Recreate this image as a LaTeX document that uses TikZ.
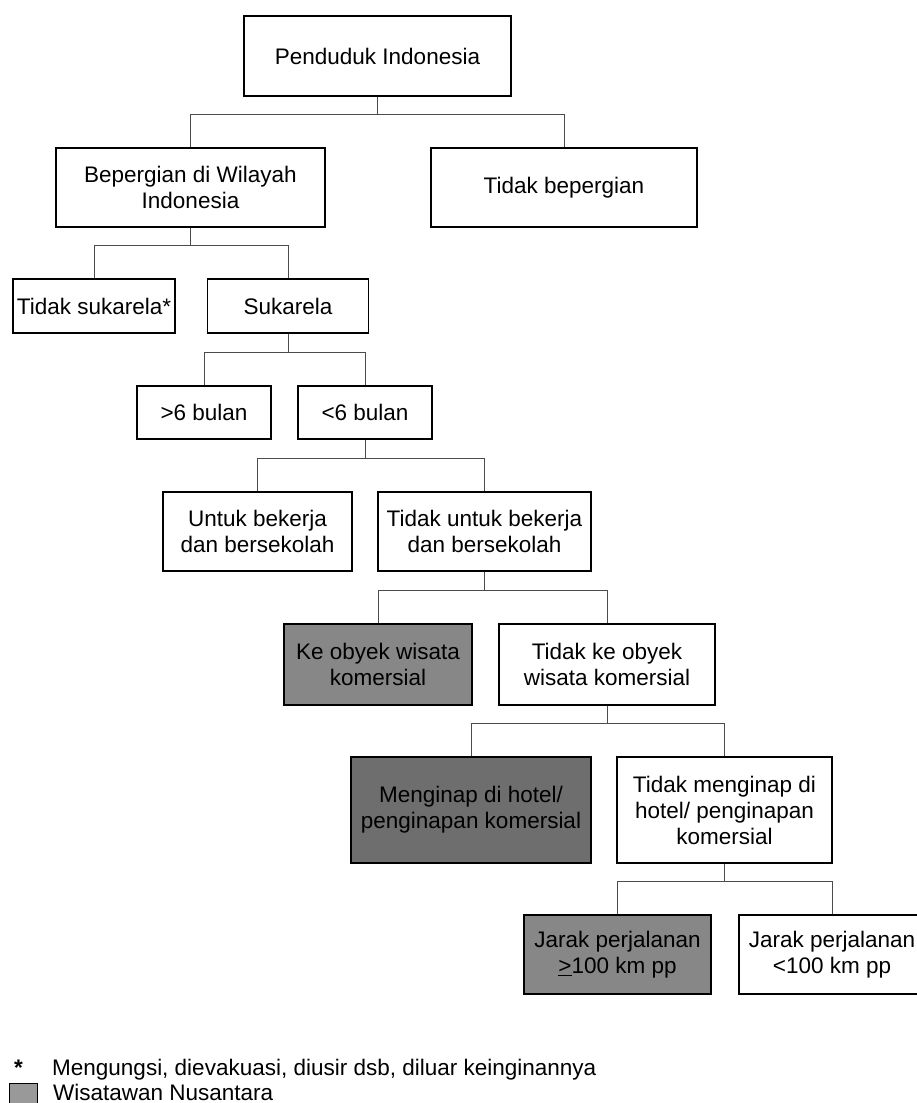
\documentclass[tikz,border=0pt]{standalone}
\usepackage{fontspec}
\setmainfont{Liberation Sans}
\usetikzlibrary{calc}
\begin{document}
\begin{tikzpicture}[x=1pt,y=-1pt,
  box/.style={draw=black, line width=1.4pt, fill=white, rectangle, inner sep=0pt,
    align=center, font=\fontsize{22.5}{26}\selectfont},
  tour/.style={box, fill=black!47},
  conn/.style={draw=black!70, line width=0.9pt},
  note/.style={anchor=base west, inner sep=0pt, font=\fontsize{22.5}{26}\selectfont},
]
\useasboundingbox (0,0) rectangle (916,1103);

% decision tree boxes
\node[box, minimum width=267pt, minimum height=80pt] (pend) at (377.5,56) {Penduduk Indonesia};
\node[box, minimum width=269pt, minimum height=79pt] (bep) at (190.5,187.5) {Bepergian di Wilayah\\Indonesia};
\node[box, minimum width=266pt, minimum height=79pt] (tbep) at (564,187.5) {Tidak bepergian};
\node[box, minimum width=162pt, minimum height=54pt] (tsuk) at (94,306) {Tidak sukarela*};
\node[box, minimum width=161pt, minimum height=54pt] (suk) at (288,306) {Sukarela};
\node[box, minimum width=134pt, minimum height=53pt] (gt6) at (204,412.5) {>6 bulan};
\node[box, minimum width=134pt, minimum height=53pt] (lt6) at (365,412.5) {<6 bulan};
\node[box, minimum width=189pt, minimum height=79pt] (ubk) at (257.5,531.5) {Untuk bekerja\\dan bersekolah};
\node[box, minimum width=213pt, minimum height=79pt] (tubk) at (484.5,531.5) {Tidak untuk bekerja\\dan bersekolah};
\node[tour, minimum width=188pt, minimum height=81pt] (keo) at (378,664.5) {Ke obyek wisata\\komersial};
\node[box, minimum width=216pt, minimum height=81pt] (tkeo) at (607,664.5) {Tidak ke obyek\\wisata komersial};
\node[tour, fill=black!57, minimum width=240pt, minimum height=106pt] (men) at (471,810) {Menginap di hotel/\\penginapan komersial};
\node[box, minimum width=215pt, minimum height=106pt] (tmen) at (724.5,810) {Tidak menginap di\\hotel/ penginapan\\komersial};
\node[tour, minimum width=187pt, minimum height=79pt] (jge) at (617.5,954.5) {Jarak perjalanan\\\underline{>}100 km pp};
\node[box, minimum width=186pt, minimum height=79pt] (jlt) at (832,954.5) {Jarak perjalanan\\<100 km pp};

% connectors: parent drop, then a bar joining the two children
\draw[conn] (pend.south) -- ($(pend.south |- bep.north)+(0,-33)$);
\draw[conn] (bep.north) -- ++(0,-33) -| (tbep.north);
\draw[conn] (bep.south) -- ($(bep.south |- tsuk.north)+(0,-33)$);
\draw[conn] (tsuk.north) -- ++(0,-33) -| (suk.north);
\draw[conn] (suk.south) -- ($(suk.south |- gt6.north)+(0,-33)$);
\draw[conn] (gt6.north) -- ++(0,-33) -| (lt6.north);
\draw[conn] (lt6.south) -- ($(lt6.south |- ubk.north)+(0,-33)$);
\draw[conn] (ubk.north) -- ++(0,-33) -| (tubk.north);
\draw[conn] (tubk.south) -- ($(tubk.south |- keo.north)+(0,-33)$);
\draw[conn] (keo.north) -- ++(0,-33) -| (tkeo.north);
\draw[conn] (tkeo.south) -- ($(tkeo.south |- men.north)+(0,-33)$);
\draw[conn] (men.north) -- ++(0,-33) -| (tmen.north);
\draw[conn] (tmen.south) -- ($(tmen.south |- jge.north)+(0,-33)$);
\draw[conn] (jge.north) -- ++(0,-33) -| (jlt.north);

% legend
\node[note] (star) at (14,1075) {\textbf{*}};
\node[note] (starnote) at (52,1075) {Mengungsi, dievakuasi, diusir dsb, diluar keinginannya};
\node[tour, fill=black!40, line width=1pt, minimum width=28pt, minimum height=20pt] (key) at (23,1093) {};
\node[note] (keynote) at (53,1100) {Wisatawan Nusantara};
\end{tikzpicture}
\end{document}
